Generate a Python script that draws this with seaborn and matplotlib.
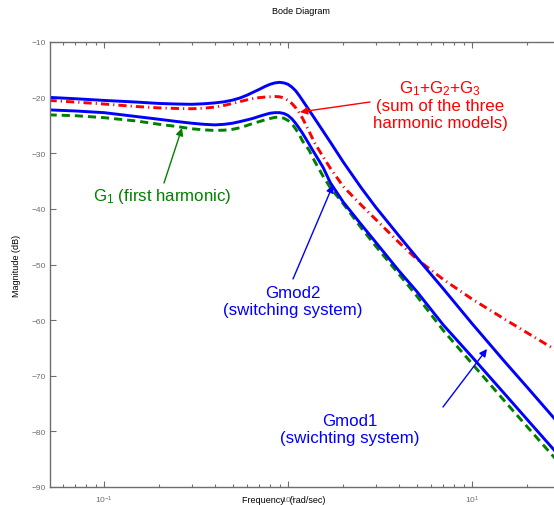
import numpy as np
import pandas as pd
import seaborn as sns
import matplotlib
matplotlib.use("Agg")
import matplotlib.pyplot as plt
from matplotlib.ticker import LogLocator, FixedLocator

# frequencies (rad/sec) shared by all four magnitude curves
freq = [0.05, 0.07, 0.1, 0.15, 0.2, 0.25, 0.3, 0.35, 0.4, 0.45, 0.5, 0.55,
        0.6, 0.65, 0.7, 0.75, 0.8, 0.85, 0.9, 0.95, 1.0, 1.05, 1.1, 1.15,
        1.2, 1.3, 1.4, 1.55, 1.7, 2.0, 2.5, 3, 4, 5, 7, 10, 15, 20, 30]

# magnitudes in dB
gmod1 = [-19.95, -20.2, -20.5, -20.8, -21.05, -21.15, -21.2, -21.1, -20.95,
         -20.75, -20.45, -20.05, -19.55, -19.0, -18.5, -18.0, -17.6, -17.35,
         -17.25, -17.35, -17.6, -18.1, -18.75, -19.6, -20.5, -22.2, -23.8,
         -26.0, -28.0, -31.6, -36.2, -39.7, -44.8, -48.7, -54.4, -60.6,
         -67.4, -72.1, -78.8]
gmod2 = [-22.2, -22.4, -22.7, -23.4, -23.9, -24.3, -24.6, -24.8, -24.9,
         -24.8, -24.6, -24.3, -24.0, -23.7, -23.35, -23.05, -22.8, -22.7,
         -22.7, -22.85, -23.2, -23.8, -24.6, -25.5, -26.4, -28.3, -30.1,
         -32.5, -35.3, -38.8, -42.8, -46.0, -51.1, -54.8, -60.9, -66.6,
         -73.2, -77.9, -84.5]
g1 = [-23.1, -23.25, -23.6, -24.2, -24.8, -25.2, -25.6, -25.8, -25.9,
      -25.85, -25.7, -25.4, -25.0, -24.6, -24.3, -24.0, -23.75, -23.55,
      -23.5, -23.7, -24.1, -24.7, -25.6, -26.6, -27.8, -29.4, -31.5,
      -34.1, -36.2, -39.1, -43.4, -46.7, -51.7, -55.6, -61.9, -67.8,
      -74.5, -79.2, -85.8]
g123 = [-20.5, -20.8, -21.15, -21.6, -21.85, -21.95, -22.0, -21.9, -21.7,
        -21.4, -21.05, -20.7, -20.4, -20.15, -20.0, -19.9, -19.85, -19.8,
        -19.85, -20.05, -20.5, -21.05, -21.8, -22.7, -23.7, -26.0, -28.2,
        -30.6, -32.7, -36.0, -39.3, -41.9, -46.0, -49.0, -52.7, -56.2,
        -59.8, -62.3, -65.8]

df = pd.DataFrame({"freq": freq, "Gmod1": gmod1, "Gmod2": gmod2,
                   "G1": g1, "G123": g123})

sns.set_theme(style="ticks")
plt.rcParams["font.family"] = ["Liberation Sans", "DejaVu Sans"]
plt.rcParams["mathtext.fontset"] = "custom"
plt.rcParams["mathtext.rm"] = "Liberation Sans"
plt.rcParams["mathtext.it"] = "Liberation Sans:italic"

fig = plt.figure(figsize=(5.54, 5.06), dpi=100)
ax = fig.add_axes([50 / 554, 1 - 488 / 506, 510 / 554, 445 / 506])

lw = 2.1
sns.lineplot(data=df, x="freq", y="G1", ax=ax, color="#008000", lw=lw,
             linestyle=(0, (2.8, 1.7)), sort=False, estimator=None)
sns.lineplot(data=df, x="freq", y="G123", ax=ax, color="#ff0000", lw=lw,
             linestyle=(0, (2.8, 1.4, 0.4, 1.4)), sort=False, estimator=None)
sns.lineplot(data=df, x="freq", y="Gmod2", ax=ax, color="#0000ff", lw=lw,
             sort=False, estimator=None)
sns.lineplot(data=df, x="freq", y="Gmod1", ax=ax, color="#0000ff", lw=lw,
             sort=False, estimator=None)

ax.set_xscale("log")
ax.set_xlim(0.0509, 30.1)
ax.set_ylim(-90, -10)
ax.yaxis.set_major_locator(FixedLocator(np.arange(-90, -9, 10)))
ax.xaxis.set_major_locator(LogLocator(base=10, numticks=10))
ax.xaxis.set_minor_locator(LogLocator(base=10, subs=np.arange(2, 10), numticks=10))

gray = "#6e6e6e"
for s in ax.spines.values():
    s.set_color(gray)
    s.set_linewidth(1.0)
ax.tick_params(which="both", direction="in", top=True, right=True,
               colors=gray, labelcolor=gray, labelsize=6)
ax.tick_params(which="major", length=4, width=0.8)
ax.tick_params(which="minor", length=2.5, width=0.8)
ax.tick_params(axis="x", pad=4.5)
ax.tick_params(axis="y", pad=3)

ax.set_xlabel("Frequency  (rad/sec)", fontsize=6.5, color="black")
ax.xaxis.set_label_coords(0.459, -0.017)
ax.set_ylabel("Magnitude (dB)", fontsize=6.5, color="black")
ax.yaxis.set_label_coords(-0.056, 0.5)
fig.text(301 / 554, 1 - 12 / 506, "Bode Diagram", fontsize=6.5,
         ha="center", va="center", color="black")


def px(x, y):
    # figure pixel -> figure fraction
    return (x / 554, 1 - y / 506)


arrow = dict(arrowstyle="-|>", lw=1.0, mutation_scale=11, shrinkA=0, shrinkB=0)
fs = 12.2

ax.annotate("", xy=px(300, 113), xycoords="figure fraction",
            xytext=px(370, 103), textcoords="figure fraction",
            arrowprops=dict(arrow, color="#ff0000"))
fig.text(*px(440, 105), "G$_1$+G$_2$+G$_3$\n(sum of the three\nharmonic models)",
         color="#ff0000", fontsize=fs, ha="center", va="center",
         linespacing=1.15)

ax.annotate("", xy=px(182, 129), xycoords="figure fraction",
            xytext=px(164, 184), textcoords="figure fraction",
            arrowprops=dict(arrow, color="#008000"))
fig.text(*px(162, 197), "G$_1$ (first harmonic)", color="#008000",
         fontsize=fs, ha="center", va="center")

ax.annotate("", xy=px(333, 186), xycoords="figure fraction",
            xytext=px(293, 280), textcoords="figure fraction",
            arrowprops=dict(arrow, color="#0000ff"))
fig.text(*px(293, 302), "Gmod2\n(switching system)", color="#0000ff",
         fontsize=fs, ha="center", va="center", linespacing=1.2)

ax.annotate("", xy=px(487, 350), xycoords="figure fraction",
            xytext=px(443, 408), textcoords="figure fraction",
            arrowprops=dict(arrow, color="#0000ff"))
fig.text(*px(350, 430), "Gmod1\n(swichting system)", color="#0000ff",
         fontsize=fs, ha="center", va="center", linespacing=1.2)

fig.savefig("out.png", dpi=100, facecolor="white")
